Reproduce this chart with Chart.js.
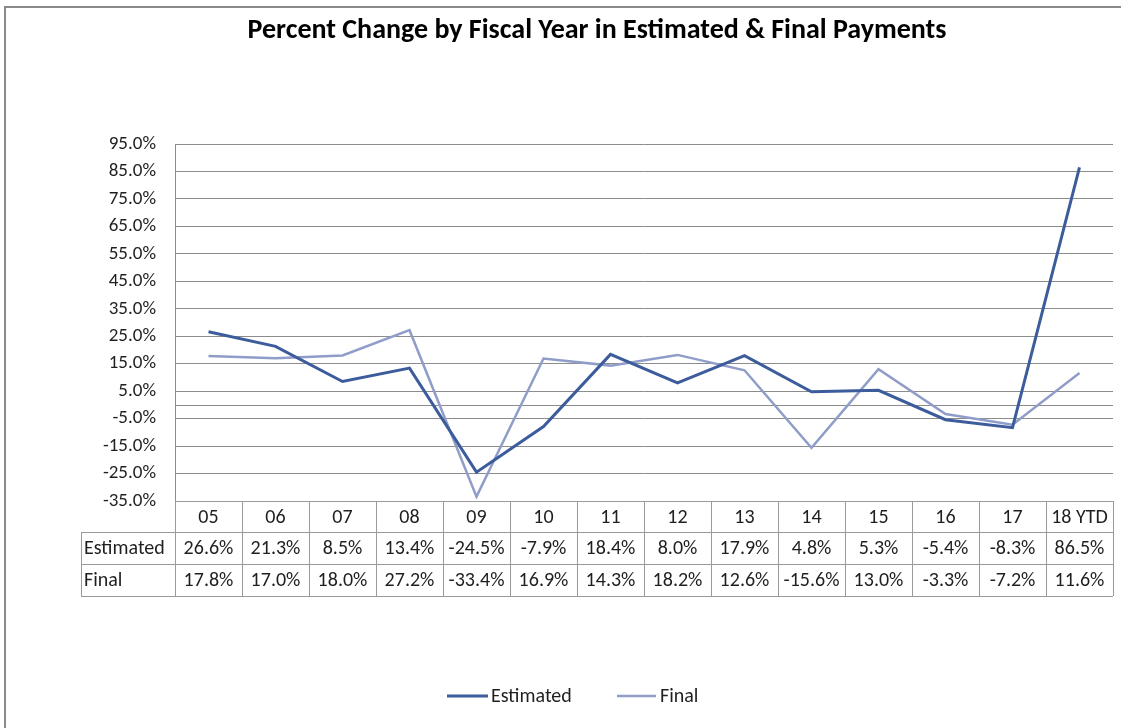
<!DOCTYPE html>
<html>
<head>
<meta charset="utf-8">
<title>Percent Change by Fiscal Year in Estimated &amp; Final Payments</title>
<script src="https://cdn.jsdelivr.net/npm/chart.js@4/dist/chart.umd.min.js"></script>
<style>
  html, body { margin: 0; padding: 0; background: #fff; }
  canvas { display: block; }
</style>
</head>
<body>
<canvas id="chart" width="1121" height="728"></canvas>
<script>
(function () {
  "use strict";

  const TITLE = "Percent Change by Fiscal Year in Estimated & Final Payments";
  const CATEGORIES = ["05", "06", "07", "08", "09", "10", "11", "12", "13", "14", "15", "16", "17", "18 YTD"];
  const ESTIMATED = [26.6, 21.3, 8.5, 13.4, -24.5, -7.9, 18.4, 8.0, 17.9, 4.8, 5.3, -5.4, -8.3, 86.5];
  const FINAL = [17.8, 17.0, 18.0, 27.2, -33.4, 16.9, 14.3, 18.2, 12.6, -15.6, 13.0, -3.3, -7.2, 11.6];
  const Y_MIN = -35;
  const Y_MAX = 95;
  const Y_STEP = 10;

  const FONT = "Carlito, Calibri, Lato, sans-serif";
  const TEXT = "#1f1f1f";
  const GRID = "#8c8c8c";
  const EST_COLOR = "#3d5c9c";
  const FIN_COLOR = "#8f9dc8";

  const fmt = (v) => v.toFixed(1) + "%";

  // frame, title, zero line, data table and legend
  const decorations = {
    id: "decorations",
    beforeDraw(chart) {
      const ctx = chart.ctx;
      ctx.save();
      ctx.strokeStyle = "#8a8a8a";
      ctx.lineWidth = 2;
      ctx.beginPath();
      ctx.moveTo(5, 800);
      ctx.lineTo(5, 7);
      ctx.lineTo(1200, 7);
      ctx.stroke();
      ctx.restore();
    },
    beforeDatasetsDraw(chart) {
      // horizontal category axis crossing at 0
      const ctx = chart.ctx;
      const area = chart.chartArea;
      const py = Math.round(chart.scales.y.getPixelForValue(0)) + 0.5;
      ctx.save();
      ctx.strokeStyle = GRID;
      ctx.lineWidth = 1;
      ctx.beginPath();
      ctx.moveTo(area.left, py);
      ctx.lineTo(area.right, py);
      ctx.stroke();
      ctx.restore();
    },
    afterDatasetsDraw(chart) {
      const ctx = chart.ctx;
      const area = chart.chartArea;
      const x = chart.scales.x;
      ctx.save();

      // title
      ctx.fillStyle = "#000";
      ctx.font = "bold 28px " + FONT;
      ctx.textAlign = "center";
      ctx.textBaseline = "middle";
      ctx.fillText(TITLE, 597, 31);

      // data table
      const colW = (area.right - area.left) / CATEGORIES.length;
      const rowTops = [area.bottom, area.bottom + 31, area.bottom + 63, area.bottom + 95];
      const labelLeft = 81;
      ctx.strokeStyle = "#9a9a9a";
      ctx.lineWidth = 1;
      ctx.beginPath();
      ctx.moveTo(area.left, rowTops[0] + 0.5);
      ctx.lineTo(area.right, rowTops[0] + 0.5);
      for (let r = 1; r < rowTops.length; r++) {
        ctx.moveTo(labelLeft, Math.round(rowTops[r]) + 0.5);
        ctx.lineTo(area.right, Math.round(rowTops[r]) + 0.5);
      }
      ctx.moveTo(labelLeft + 0.5, rowTops[1]);
      ctx.lineTo(labelLeft + 0.5, rowTops[3]);
      for (let i = 0; i <= CATEGORIES.length; i++) {
        const px = Math.round(area.left + i * colW) + 0.5;
        ctx.moveTo(px, rowTops[0]);
        ctx.lineTo(px, rowTops[3]);
      }
      ctx.stroke();

      ctx.fillStyle = TEXT;
      ctx.font = "20px " + FONT;
      ctx.textBaseline = "middle";
      ctx.textAlign = "center";
      CATEGORIES.forEach((c, i) => {
        const cx = x.getPixelForValue(i);
        ctx.fillText(c, cx, (rowTops[0] + rowTops[1]) / 2 + 1);
        ctx.fillText(fmt(ESTIMATED[i]), cx, (rowTops[1] + rowTops[2]) / 2 + 1);
        ctx.fillText(fmt(FINAL[i]), cx, (rowTops[2] + rowTops[3]) / 2 + 1);
      });
      ctx.textAlign = "left";
      ctx.fillText("Estimated", labelLeft + 3, (rowTops[1] + rowTops[2]) / 2 + 1);
      ctx.fillText("Final", labelLeft + 3, (rowTops[2] + rowTops[3]) / 2 + 1);

      // legend
      const items = [
        { label: chart.data.datasets[0].label, color: EST_COLOR, width: 3, x0: 447, x1: 488, tx: 491 },
        { label: chart.data.datasets[1].label, color: FIN_COLOR, width: 2.5, x0: 617, x1: 656, tx: 660 },
      ];
      items.forEach((it) => {
        ctx.strokeStyle = it.color;
        ctx.lineWidth = it.width;
        ctx.beginPath();
        ctx.moveTo(it.x0, 696);
        ctx.lineTo(it.x1, 696);
        ctx.stroke();
        ctx.fillStyle = TEXT;
        ctx.fillText(it.label, it.tx, 697);
      });
      ctx.restore();
    },
  };

  new Chart(document.getElementById("chart"), {
    type: "line",
    data: {
      labels: CATEGORIES,
      datasets: [
        {
          label: "Estimated",
          data: ESTIMATED,
          borderColor: EST_COLOR,
          backgroundColor: EST_COLOR,
          borderWidth: 3,
          pointRadius: 0,
          tension: 0,
        },
        {
          label: "Final",
          data: FINAL,
          borderColor: FIN_COLOR,
          backgroundColor: FIN_COLOR,
          borderWidth: 2.5,
          pointRadius: 0,
          tension: 0,
        },
      ],
    },
    options: {
      responsive: false,
      animation: false,
      layout: { padding: { top: 144, right: 8, bottom: 227, left: 0 } },
      plugins: {
        legend: { display: false },
        title: { display: false },
        tooltip: { enabled: false },
      },
      scales: {
        x: {
          type: "category",
          offset: true,
          display: false,
        },
        y: {
          min: Y_MIN,
          max: Y_MAX,
          afterFit(scale) { scale.width = 175; },
          ticks: {
            stepSize: Y_STEP,
            color: TEXT,
            font: { family: FONT, size: 19 },
            padding: 19,
            callback: (v) => fmt(v),
          },
          grid: { color: GRID, lineWidth: 1, drawTicks: false },
          border: { display: true, color: GRID, width: 1 },
        },
      },
    },
    plugins: [decorations],
  });
})();
</script>
</body>
</html>
